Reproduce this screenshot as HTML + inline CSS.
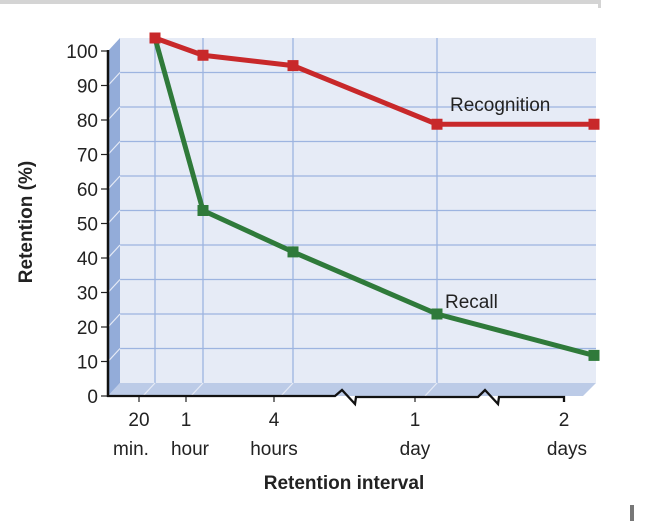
<!DOCTYPE html>
<html><head><meta charset="utf-8"><style>
html,body{margin:0;padding:0;background:#fff;}
svg{display:block;font-family:"Liberation Sans",Arial,sans-serif;}
</style></head><body>
<svg width="657" height="521" viewBox="0 0 657 521">
<rect x="0" y="0" width="601" height="4" fill="#d4d4d4"/>
<rect x="598" y="0" width="3" height="8" fill="#d4d4d4"/>
<rect x="630" y="505" width="4" height="16" fill="#777"/>
<g id="plot"></g>
<text x="344" y="489" text-anchor="middle" style="font-size:19px" font-weight="bold" fill="#222">Retention interval</text>
<text transform="translate(32,222) rotate(-90)" text-anchor="middle" style="font-size:19px" font-weight="bold" fill="#222">Retention (%)</text>
</svg>
<script>
const categories = ["20 min.", "1 hour", "4 hours", "1 day", "2 days"];
const tickTop = ["20", "1", "4", "1", "2"];
const tickBottom = ["min.", "hour", "hours", "day", "days"];
const recognition = [100, 95, 92, 75, 75];
const recall = [100, 50, 38, 20, 8];
const yTicks = [0,10,20,30,40,50,60,70,80,90,100];

const NS = "http://www.w3.org/2000/svg";
const g = document.getElementById("plot");
function mk(tag, attrs, parent){const e=document.createElementNS(NS,tag);for(const k in attrs)e.setAttribute(k,attrs[k]);(parent||g).appendChild(e);return e;}
const backX = [155, 203, 293, 437, 594];
const frontX = [139, 186, 274, 415, 564];
function xBack(i){return backX[i];}
function xFront(i){return frontX[i];}
function yBack(v){return 383 - v*3.45;}
function yFront(v){return 396 - v*3.45;}
let e;
e=mk("rect",{x:120,y:38,width:476,height:345,fill:"#e6ebf6"});


e=mk("polygon",{points:"108,51 120,38 120,383 108,396",fill:"#93acd9"});


e=mk("polygon",{points:"108,396 120,383 596,383 583,396",fill:"#bccbe7"});


yTicks.forEach(v=>{
  if(v>0 && v<100){
    e=mk("line",{x1:120,x2:596,y1:yBack(v),y2:yBack(v),stroke:"#9db4e0","stroke-width":1.3});
    
    
    e=mk("line",{x1:108,x2:120,y1:yFront(v),y2:yBack(v),stroke:"#e6ebf6","stroke-width":1.2});
    
    
  }
  e=mk("line",{x1:101,x2:108,y1:yFront(v),y2:yFront(v),stroke:"#222","stroke-width":1.2});
  
  
  e=mk("text",{x:98,y:yFront(v)+7,"text-anchor":"end",style:"font-size:19px",fill:"#222"});
  e.textContent=v;
  
  
});
categories.forEach((c,i)=>{
  if(i<4){
    e=mk("line",{x1:xBack(i),x2:xBack(i),y1:38,y2:383,stroke:"#9db4e0","stroke-width":1.3});
    
    
    e=mk("line",{x1:xBack(i)-12,x2:xBack(i),y1:396,y2:383,stroke:"#e6ebf6","stroke-width":1.2});
    
    
  }
  e=mk("line",{x1:xFront(i),x2:xFront(i),y1:396,y2:402,stroke:"#222","stroke-width":1.2});
  
  
  e=mk("text",{x:xFront(i),y:426,"text-anchor":"middle",style:"font-size:19px",fill:"#222"});
  e.textContent=tickTop[i];
  
  
  e=mk("text",{x:xFront(i)+(i===0?-8:i===1?4:i===4?3:0),y:455,"text-anchor":"middle",style:"font-size:19px",fill:"#222"});
  e.textContent=tickBottom[i];
  
  
});
e=mk("line",{x1:108,x2:108,y1:50,y2:397,stroke:"#111","stroke-width":2.5});


e=mk("polyline",{points:"107,396 335,396 342,390 355,404 356,397 478,397 485,390 498,404 499,397 564,397 564,402",fill:"none",stroke:"#111","stroke-width":2.3});


function series(vals,color,name){
  e=mk("polyline",{points:vals.map((v,i)=>xBack(i)+","+yBack(v)).join(" "),fill:"none",stroke:color,"stroke-width":5,"stroke-linejoin":"round"});
  
  
  vals.forEach((v,i)=>{
    e=mk("rect",{x:xBack(i)-5.5,y:yBack(v)-5.5,width:11,height:11,fill:color});
    
    
  });
}
series(recall,"#2f7a3a","recall");
series(recognition,"#c8282a","recognition");
e=mk("text",{x:450,y:111,style:"font-size:19px",fill:"#222"});
e.textContent="Recognition";


e=mk("text",{x:445,y:308,style:"font-size:19px",fill:"#222"});
e.textContent="Recall";


</script>
</body></html>
